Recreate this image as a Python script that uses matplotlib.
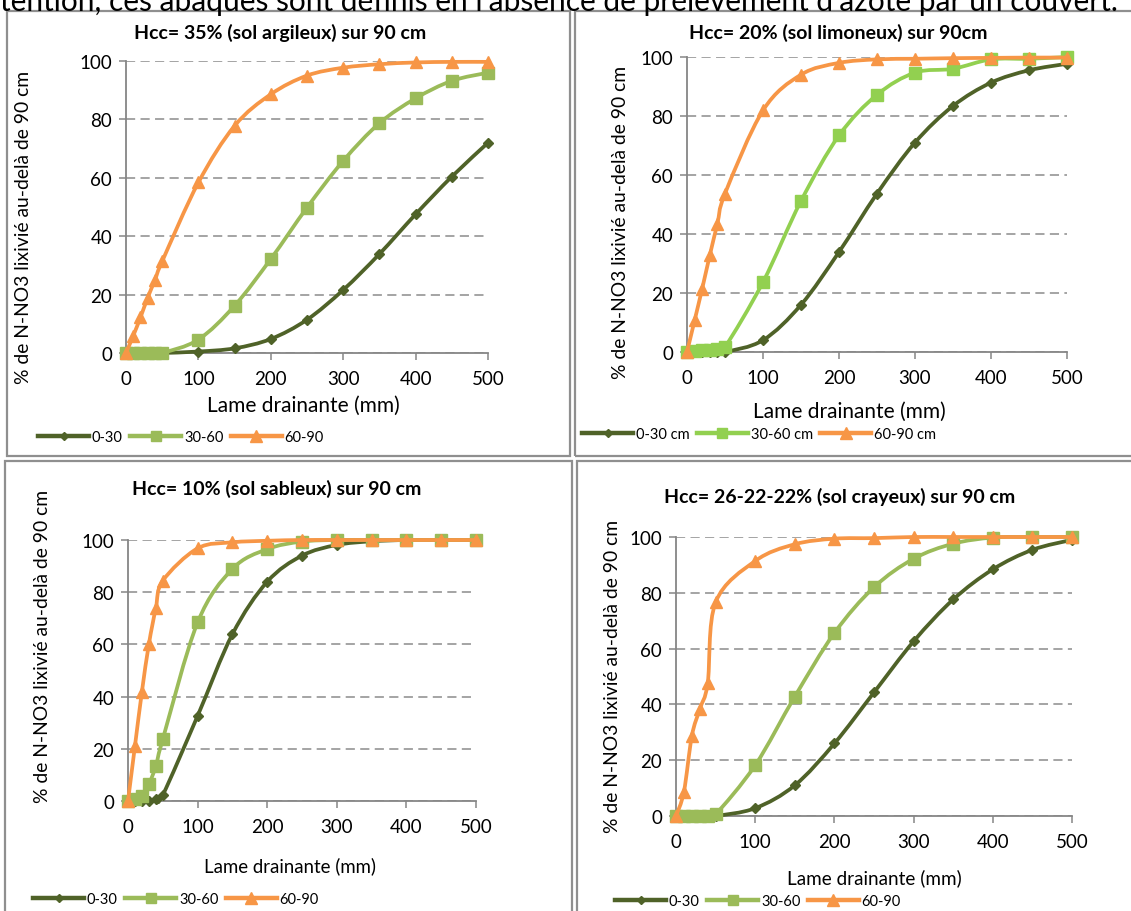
import matplotlib
matplotlib.use("Agg")
import matplotlib.pyplot as plt
from matplotlib.path import Path
from matplotlib.patches import PathPatch, Rectangle
from matplotlib.lines import Line2D

plt.rcParams['font.family'] = ['Lato', 'DejaVu Sans']

lame = [0, 10, 20, 30, 40, 50, 100, 150, 200, 250, 300, 350, 400, 450, 500]

argileux_0_30 = [0, 0, 0, 0, 0, 0, 0.5, 1.6, 4.8, 11.4, 21.6, 33.9, 47.5, 60.4, 72]
argileux_30_60 = [0, 0, 0, 0, 0, 0, 4.6, 16.2, 32.2, 49.8, 65.8, 78.7, 87.2, 93.2, 96]
argileux_60_90 = [0, 5.9, 12.2, 19, 25, 31.4, 58.4, 77.8, 88.6, 95, 97.7, 98.9, 99.5, 99.7, 99.7]

limoneux_0_30 = [0, 0, 0, 0, 0, 0, 4, 16, 33.9, 53.7, 71, 83.4, 91.3, 95.5, 97.7]
limoneux_30_60 = [0, 0.2, 0.6, 0.8, 1.1, 1.7, 23.7, 51.2, 73.4, 87.2, 94.7, 96, 99.2, 99.4, 100]
limoneux_60_90 = [0, 10.7, 21.5, 32.8, 43.5, 53.7, 81.9, 94, 98, 99.2, 99.4, 99.6, 99.7, 99.8, 99.8]

sableux_0_30 = [0, 0, 0, 0, 0.6, 2.3, 32.6, 63.9, 84, 94, 98.1, 99.5, 100, 100, 100]
sableux_30_60 = [0, 0.6, 2, 6.4, 13.4, 23.7, 68.4, 88.9, 96.5, 99.4, 100, 100, 100, 100, 100]
sableux_60_90 = [0, 21.1, 41.9, 60.1, 73.9, 84.4, 96.8, 99.1, 99.7, 100, 100, 100, 100, 100, 100]

crayeux_0_30 = [0, 0, 0, 0, 0, 0, 2.8, 11, 26, 44.3, 62.6, 77.6, 88.4, 95.4, 99]
crayeux_30_60 = [0, 0, 0, 0, 0, 0.6, 18.2, 42.8, 65.6, 82, 92.2, 97.6, 99.8, 100, 100]
crayeux_60_90 = [0, 8.7, 28.7, 38.3, 47.5, 76.6, 91.4, 97.4, 99.4, 99.6, 100, 100, 100, 100, 100]

titres = ["Hcc= 35% (sol argileux) sur 90 cm",
          "Hcc= 20% (sol limoneux) sur 90cm",
          "Hcc= 10% (sol sableux) sur 90 cm",
          "Hcc= 26-22-22% (sol crayeux) sur 90 cm"]
legendes = [["0-30", "30-60", "60-90"],
            ["0-30 cm", "30-60 cm", "60-90 cm"],
            ["0-30", "30-60", "60-90"],
            ["0-30", "30-60", "60-90"]]
series = [[argileux_0_30, argileux_30_60, argileux_60_90],
          [limoneux_0_30, limoneux_30_60, limoneux_60_90],
          [sableux_0_30, sableux_30_60, sableux_60_90],
          [crayeux_0_30, crayeux_30_60, crayeux_60_90]]

W, H = 1131, 912
VERT_F = '#4F6228'
ORANGE = '#F79646'
verts_clairs = ['#9BBB59', '#92D050', '#9BBB59', '#9BBB59']
marqueurs = [('D', 5.5), ('s', 8), ('^', 9)]

# layout in pixels: axes box, title, labels, legend, border
panneaux = [
    dict(ax=(126, 488, 62, 354), title=(280, 33), ylab=(24, 227), xlab=(303, 406, 15),
         leg=(38, 438), box=(7, 12, 570, 457)),
    dict(ax=(687, 1067, 58, 353), title=(838, 33), ylab=(620, 222), xlab=(849, 412, 15),
         leg=(582, 435), box=(575, 12, 1140, 457)),
    dict(ax=(128, 476, 541, 802), title=(277, 489), ylab=(43, 646), xlab=(290, 866, 13.4),
         leg=(33, 900), box=(5, 462, 572, 930)),
    dict(ax=(676, 1072, 538, 817), title=(840, 497), ylab=(613, 676), xlab=(874, 878, 13.6),
         leg=(615, 902), box=(577, 462, 1140, 930)),
]


def lisse(x, y):
    # Excel-like smoothed line: cubic bezier through every point
    pts = list(zip(x, y))
    n = len(pts)
    verts = [pts[0]]
    codes = [Path.MOVETO]
    for i in range(n - 1):
        p0 = pts[i - 1] if i > 0 else pts[i]
        p1, p2 = pts[i], pts[i + 1]
        p3 = pts[i + 2] if i + 2 < n else pts[i + 1]
        c1 = (p1[0] + (p2[0] - p0[0]) / 6, p1[1] + (p2[1] - p0[1]) / 6)
        c2 = (p2[0] - (p3[0] - p1[0]) / 6, p2[1] - (p3[1] - p1[1]) / 6)
        verts += [c1, c2, p2]
        codes += [Path.CURVE4] * 3
    return Path(verts, codes)


fig = plt.figure(figsize=(W / 100, H / 100), dpi=100)

# texte du document au-dessus, coupé par le cadrage comme dans l'original
fig.text(0, 1 - 11 / H, "tention, ces abaques sont définis en l'absence de prélèvement d'azote par un couvert.",
         fontsize=21.5, va='baseline', ha='left')

for k, p in enumerate(panneaux):
    x0, x1, y100, y0 = p['ax']
    ax = fig.add_axes([x0 / W, 1 - y0 / H, (x1 - x0) / W, (y0 - y100) / H])
    couleurs = [VERT_F, verts_clairs[k], ORANGE]
    for j, vals in enumerate(series[k]):
        ax.add_patch(PathPatch(lisse(lame, vals), fill=False, edgecolor=couleurs[j],
                               lw=2.7, zorder=3 + j, clip_on=False, capstyle='round'))
        m, ms = marqueurs[j]
        ax.plot(lame, vals, ls='none', marker=m, ms=ms, color=couleurs[j],
                mec=couleurs[j], zorder=3 + j, clip_on=False)
    ax.set_xlim(0, 500)
    ax.set_ylim(0, 100)
    ax.set_xticks(range(0, 501, 100))
    ax.set_yticks(range(0, 101, 20))
    for s in ['top', 'right']:
        ax.spines[s].set_visible(False)
    for s in ['left', 'bottom']:
        ax.spines[s].set_color('#868686')
        ax.spines[s].set_linewidth(1.3)
    ax.yaxis.grid(True, color='#8c8c8c', lw=1.1, dashes=(6, 3.5))
    ax.tick_params(axis='both', colors='#868686', labelcolor='black', labelsize=13.5,
                   length=5, width=1.1)
    ax.tick_params(axis='y', pad=5)
    ax.tick_params(axis='x', pad=7)

    fig.text(p['title'][0] / W, 1 - p['title'][1] / H, titres[k], fontsize=14,
             fontweight='bold', ha='center', va='center')
    fig.text(p['ylab'][0] / W, 1 - p['ylab'][1] / H, "% de N-NO3 lixivié au-delà de 90 cm",
             fontsize=13.9, rotation=90, ha='center', va='center')
    fig.text(p['xlab'][0] / W, 1 - p['xlab'][1] / H, "Lame drainante (mm)",
             fontsize=p['xlab'][2], ha='center', va='center')

    poignees = [Line2D([], [], color=couleurs[j], lw=3.2, marker=marqueurs[j][0],
                       ms=marqueurs[j][1] - 1) for j in range(3)]
    fig.legend(poignees, legendes[k], loc='center left',
               bbox_to_anchor=(p['leg'][0] / W, 1 - p['leg'][1] / H),
               ncol=3, frameon=False, fontsize=10.5, handlelength=3.5,
               handletextpad=0.2, columnspacing=0.5, borderaxespad=0, borderpad=0)

    bx0, by0, bx1, by1 = p['box']
    fig.patches.append(Rectangle((bx0 / W, 1 - by1 / H), (bx1 - bx0) / W, (by1 - by0) / H,
                                 transform=fig.transFigure, fill=False,
                                 edgecolor='#8f8f8f', lw=1.6))

fig.savefig('out.png', dpi=100)
